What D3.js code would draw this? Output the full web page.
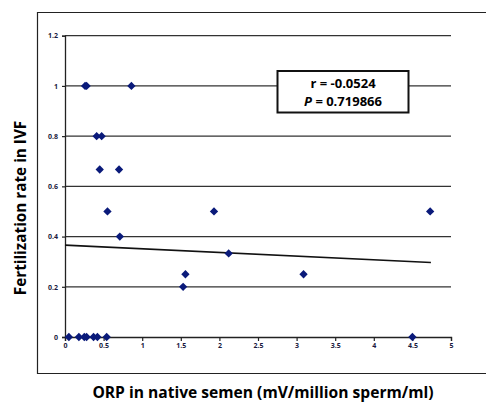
<!DOCTYPE html>
<html>
<head>
<meta charset="utf-8">
<script src="https://cdn.jsdelivr.net/npm/d3@7"></script>
<style>
  body { margin: 0; background: #fff; }
  text { font-family: "Open Sans", "Liberation Sans", sans-serif; }
</style>
</head>
<body>
<div id="chart"></div>
<script>
// ORP (x) against fertilization rate (y)
var orpValues = [0.26, 0.28, 0.86, 0.41, 0.475, 0.45, 0.70, 0.55, 0.71, 1.93, 2.12, 1.56, 1.53,
  4.73, 3.09, 0.05, 0.18, 0.25, 0.28, 0.37, 0.42, 0.54, 4.5];
var fertRates = [1, 1, 1, 0.8, 0.8, 0.667, 0.667, 0.5, 0.4, 0.5, 0.333, 0.25, 0.2,
  0.5, 0.25, 0, 0, 0, 0, 0, 0, 0, 0];
var xTicks = [0, 0.5, 1, 1.5, 2, 2.5, 3, 3.5, 4, 4.5, 5];
var yTicks = [0, 0.2, 0.4, 0.6, 0.8, 1, 1.2];
var trendX = [0, 4.74];
var trendY = [0.366, 0.297];
var statLines = ['r = -0.0524', 'P = 0.719866'];

var width = 486, height = 403;
var svg = d3.select('#chart').append('svg')
  .attr('width', width)
  .attr('height', height);

// outer frame (right edge runs off the picture)
svg.append('path')
  .attr('d', 'M' + (width + 5) + ',12.5H37.5V373.5H' + (width + 5))
  .attr('fill', 'none')
  .attr('stroke', '#222')
  .attr('stroke-width', 1.2);

var x = d3.scaleLinear().domain([0, 5]).range([65, 451]);
var y = d3.scaleLinear().domain([0, 1.2]).range([337, 35.7]);

// gridlines
svg.append('g').selectAll('line').data(yTicks.filter(function (d) { return d > 0; }))
  .enter().append('line')
  .attr('x1', x(0)).attr('x2', x(5))
  .attr('y1', y).attr('y2', y)
  .attr('stroke', '#333')
  .attr('stroke-width', 1.3);

// axes
var xAxis = svg.append('g')
  .attr('transform', 'translate(0,' + y(0) + ')')
  .call(d3.axisBottom(x).tickValues(xTicks).tickSize(4).tickPadding(2).tickFormat(d3.format('')));
var yAxis = svg.append('g')
  .attr('transform', 'translate(' + x(0) + ',0)')
  .call(d3.axisLeft(y).tickValues(yTicks).tickSize(3).tickPadding(4).tickFormat(d3.format('')));

[xAxis, yAxis].forEach(function (a) {
  a.select('.domain').attr('stroke', '#222').attr('stroke-width', 1.3);
  a.selectAll('.tick line').attr('stroke', '#222').attr('stroke-width', 1.2);
  a.selectAll('.tick text')
    .style('font-size', '7px')
    .style('font-weight', 'bold')
    .attr('fill', '#1a1a40');
});

// trend line
svg.append('line')
  .attr('x1', x(trendX[0])).attr('y1', y(trendY[0]))
  .attr('x2', x(trendX[1])).attr('y2', y(trendY[1]))
  .attr('stroke', '#111')
  .attr('stroke-width', 1.6);

// diamond markers
var diamond = d3.symbol().type(d3.symbolDiamond2).size(44);
svg.append('g').selectAll('path').data(orpValues)
  .enter().append('path')
  .attr('d', diamond)
  .attr('transform', function (d, i) {
    return 'translate(' + x(d) + ',' + y(fertRates[i]) + ')';
  })
  .attr('fill', '#0a1a7a');

// statistics box
var box = svg.append('g');
box.append('rect')
  .attr('x', 277.5).attr('y', 71)
  .attr('width', 131).attr('height', 41.5)
  .attr('fill', '#fff')
  .attr('stroke', '#111')
  .attr('stroke-width', 2);
box.append('text')
  .attr('x', 343).attr('y', 88)
  .attr('text-anchor', 'middle')
  .style('font-size', '13px')
  .style('font-weight', 'bold')
  .text(statLines[0]);
var pText = box.append('text')
  .attr('x', 343).attr('y', 106)
  .attr('text-anchor', 'middle')
  .style('font-size', '13px')
  .style('font-weight', 'bold');
pText.append('tspan').style('font-style', 'italic').text(statLines[1].slice(0, 1));
pText.append('tspan').text(statLines[1].slice(1));

// axis titles
svg.append('text')
  .attr('transform', 'translate(26,208) rotate(-90)')
  .attr('text-anchor', 'middle')
  .style('font-size', '15.3px')
  .style('font-weight', 'bold')
  .text('Fertilization rate in IVF');
svg.append('text')
  .attr('x', 263).attr('y', 398)
  .attr('text-anchor', 'middle')
  .style('font-size', '15.6px')
  .style('font-weight', 'bold')
  .text('ORP in native semen (mV/million sperm/ml)');
</script>
</body>
</html>
